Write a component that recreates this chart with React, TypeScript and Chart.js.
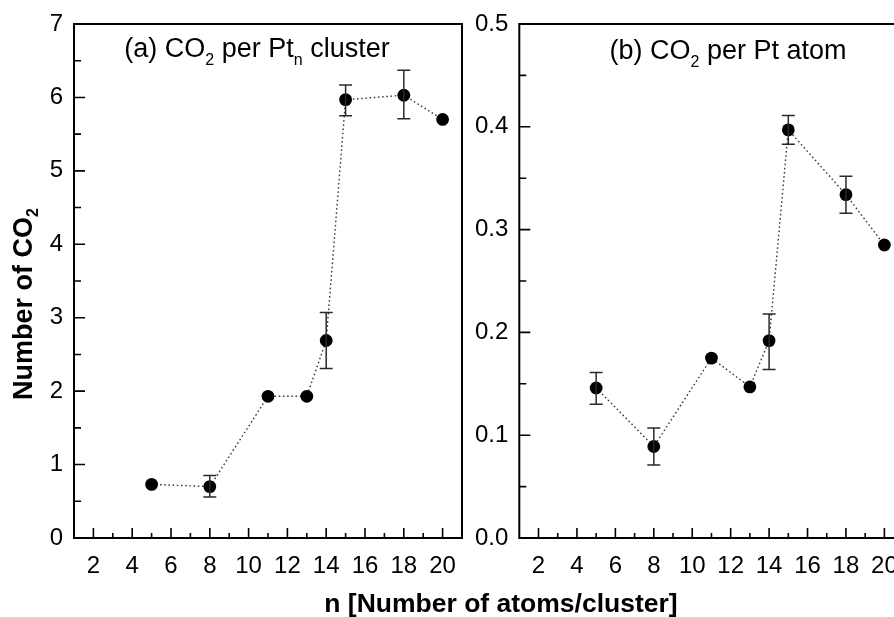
import React, { useEffect, useRef } from "react";
import { Chart, registerables } from "chart.js";

Chart.register(...registerables);

// ---------- data ----------
const nValues = [5, 8, 11, 13, 14, 15, 18, 20];

const co2PerCluster = [0.73, 0.7, 1.93, 1.93, 2.69, 5.97, 6.03, 5.7];
const clusterErrLow = [null, 0.56, null, null, 2.31, 5.75, 5.71, null];
const clusterErrHigh = [null, 0.85, null, null, 3.07, 6.17, 6.37, null];

const co2PerAtom = [0.146, 0.089, 0.175, 0.147, 0.192, 0.397, 0.334, 0.285];
const atomErrLow = [0.13, 0.071, null, null, 0.164, 0.383, 0.316, null];
const atomErrHigh = [0.161, 0.107, null, null, 0.218, 0.411, 0.352, null];

const xTickValues = [2, 4, 6, 8, 10, 12, 14, 16, 18, 20];
const xTickLabels = ["2", "4", "6", "8", "10", "12", "14", "16", "18", "20"];
const xMinorTicks = [3, 5, 7, 9, 11, 13, 15, 17, 19];

const leftYTickValues = [0, 1, 2, 3, 4, 5, 6, 7];
const leftYTickLabels = ["0", "1", "2", "3", "4", "5", "6", "7"];
const leftYMinor = [0.5, 1.5, 2.5, 3.5, 4.5, 5.5, 6.5];

const rightYTickValues = [0, 0.1, 0.2, 0.3, 0.4, 0.5];
const rightYTickLabels = ["0.0", "0.1", "0.2", "0.3", "0.4", "0.5"];
const rightYMinor = [0.05, 0.15, 0.25, 0.35, 0.45];

const titleA = [
  { t: "(a) CO", sub: false },
  { t: "2", sub: true },
  { t: " per Pt", sub: false },
  { t: "n", sub: true },
  { t: " cluster", sub: false },
];
const titleB = [
  { t: "(b) CO", sub: false },
  { t: "2", sub: true },
  { t: " per Pt atom", sub: false },
];
const yTitle = [
  { t: "Number of CO", sub: false },
  { t: "2", sub: true },
];
const xTitle = "n [Number of atoms/cluster]";

const FONT = '"Liberation Sans", Arial, Helvetica, sans-serif';

type Seg = { t: string; sub: boolean };

function drawRich(
  ctx: CanvasRenderingContext2D,
  segs: Seg[],
  cx: number,
  baseline: number,
  size: number,
  bold: boolean,
  subScale: number,
  subOffset: number
) {
  const fontFor = (s: Seg) =>
    `${bold ? "bold " : ""}${s.sub ? Math.round(size * subScale) : size}px ${FONT}`;
  let total = 0;
  const widths = segs.map((s) => {
    ctx.font = fontFor(s);
    const w = ctx.measureText(s.t).width;
    total += w;
    return w;
  });
  let x = cx - total / 2;
  ctx.textAlign = "left";
  ctx.textBaseline = "alphabetic";
  ctx.fillStyle = "#000";
  segs.forEach((s, i) => {
    ctx.font = fontFor(s);
    ctx.fillText(s.t, x, baseline + (s.sub ? subOffset : 0));
    x += widths[i];
  });
}

const decorPlugin = {
  id: "decor",
  afterDatasetsDraw(chart: any, _args: any, opts: any) {
    const ctx: CanvasRenderingContext2D = chart.ctx;
    const { left, right, top, bottom } = chart.chartArea;
    const xs = chart.scales.x;
    const ys = chart.scales.y;
    ctx.save();

    // error bars
    ctx.strokeStyle = "#2a2a2a";
    ctx.lineWidth = 1.5;
    const lo: (number | null)[] = opts.errLow;
    const hi: (number | null)[] = opts.errHigh;
    nValues.forEach((n, i) => {
      if (lo[i] == null || hi[i] == null) return;
      const px = xs.getPixelForValue(n);
      const y1 = ys.getPixelForValue(lo[i] as number);
      const y2 = ys.getPixelForValue(hi[i] as number);
      ctx.beginPath();
      ctx.moveTo(px, y1);
      ctx.lineTo(px, y2);
      ctx.moveTo(px - 6.5, y1);
      ctx.lineTo(px + 6.5, y1);
      ctx.moveTo(px - 6.5, y2);
      ctx.lineTo(px + 6.5, y2);
      ctx.stroke();
    });

    // frame
    ctx.strokeStyle = "#000";
    ctx.lineWidth = 2;
    ctx.strokeRect(left, top, right - left, bottom - top);

    // inward ticks
    ctx.lineWidth = 1.6;
    ctx.beginPath();
    xTickValues.forEach((v) => {
      const p = xs.getPixelForValue(v);
      ctx.moveTo(p, bottom);
      ctx.lineTo(p, bottom - 10);
    });
    xMinorTicks.forEach((v) => {
      const p = xs.getPixelForValue(v);
      ctx.moveTo(p, bottom);
      ctx.lineTo(p, bottom - 5);
    });
    (opts.yMajor as number[]).forEach((v) => {
      const p = ys.getPixelForValue(v);
      ctx.moveTo(left, p);
      ctx.lineTo(left + 11, p);
    });
    (opts.yMinor as number[]).forEach((v) => {
      const p = ys.getPixelForValue(v);
      ctx.moveTo(left, p);
      ctx.lineTo(left + 7, p);
    });
    ctx.stroke();

    // panel title
    drawRich(ctx, opts.title, opts.titleX, opts.titleY, 27, false, 0.58, 8);

    // y axis title
    if (opts.yTitle) {
      ctx.save();
      ctx.translate(22, 304);
      ctx.rotate(-Math.PI / 2);
      drawRich(ctx, opts.yTitle, 0, 10, 27, true, 0.6, 6);
      ctx.restore();
    }
    ctx.restore();
  },
};

function makeConfig(
  values: number[],
  yMax: number,
  yTickValues: number[],
  yTickLabels: string[],
  yWidth: number,
  padRight: number,
  decor: any
) {
  return {
    type: "line",
    data: {
      datasets: [
        {
          data: nValues.map((n, i) => ({ x: n, y: values[i] })),
          borderColor: "#3a3a3a",
          borderWidth: 1.4,
          borderDash: [1.6, 2.6],
          pointRadius: 6.4,
          pointBackgroundColor: "#000",
          pointBorderColor: "#000",
          pointBorderWidth: 0,
          tension: 0,
          clip: false,
        },
      ],
    },
    options: {
      responsive: false,
      animation: false,
      events: [],
      layout: { padding: { left: 0, top: 24, right: padRight, bottom: 0 } },
      plugins: {
        legend: { display: false },
        tooltip: { enabled: false },
        decor,
      },
      scales: {
        x: {
          type: "linear",
          min: 1,
          max: 21,
          grid: { display: false, drawTicks: false },
          border: { display: false },
          afterBuildTicks: (s: any) => {
            s.ticks = xTickValues.map((v) => ({ value: v }));
          },
          afterFit: (s: any) => {
            s.height = 79;
            s.paddingLeft = 0;
            s.paddingRight = 0;
          },
          ticks: {
            autoSkip: false,
            maxRotation: 0,
            padding: 14,
            color: "#000",
            font: { family: FONT, size: 24 },
            callback: (_v: any, i: number) => xTickLabels[i],
          },
        },
        y: {
          type: "linear",
          min: 0,
          max: yMax,
          grid: { display: false, drawTicks: false },
          border: { display: false },
          afterBuildTicks: (s: any) => {
            s.ticks = yTickValues.map((v) => ({ value: v }));
          },
          afterFit: (s: any) => {
            s.width = yWidth;
            s.paddingTop = 0;
            s.paddingBottom = 0;
          },
          ticks: {
            autoSkip: false,
            padding: 11,
            color: "#000",
            font: { family: FONT, size: 24 },
            callback: (_v: any, i: number) => yTickLabels[i],
          },
        },
      },
    },
    plugins: [decorPlugin],
  };
}

export default function App() {
  const leftRef = useRef<HTMLCanvasElement>(null);
  const rightRef = useRef<HTMLCanvasElement>(null);

  useEffect(() => {
    const left = new Chart(
      leftRef.current as HTMLCanvasElement,
      makeConfig(co2PerCluster, 7, leftYTickValues, leftYTickLabels, 74, 8, {
        errLow: clusterErrLow,
        errHigh: clusterErrHigh,
        yMajor: leftYTickValues,
        yMinor: leftYMinor,
        title: titleA,
        titleX: 257,
        titleY: 57,
        yTitle: yTitle,
      }) as any
    );
    const right = new Chart(
      rightRef.current as HTMLCanvasElement,
      makeConfig(co2PerAtom, 0.5, rightYTickValues, rightYTickLabels, 53.3, 6, {
        errLow: atomErrLow,
        errHigh: atomErrHigh,
        yMajor: rightYTickValues,
        yMinor: rightYMinor,
        title: titleB,
        titleX: 728 - 466,
        titleY: 59,
        yTitle: null,
      }) as any
    );
    return () => {
      left.destroy();
      right.destroy();
    };
  }, []);

  return (
    <div
      style={{
        position: "fixed",
        left: 0,
        top: 0,
        width: 894,
        height: 617,
        overflow: "hidden",
        background: "#fff",
      }}
    >
      <canvas
        ref={leftRef}
        width={470}
        height={617}
        style={{ position: "absolute", left: 0, top: 0 }}
      />
      <canvas
        ref={rightRef}
        width={444}
        height={617}
        style={{ position: "absolute", left: 466, top: 0 }}
      />
      <div
        style={{
          position: "absolute",
          left: 501,
          top: 590,
          transform: "translateX(-50%)",
          whiteSpace: "nowrap",
          fontFamily: FONT,
          fontWeight: "bold",
          fontSize: 26.5,
          lineHeight: "26px",
          color: "#000",
        }}
      >
        {xTitle}
      </div>
    </div>
  );
}
